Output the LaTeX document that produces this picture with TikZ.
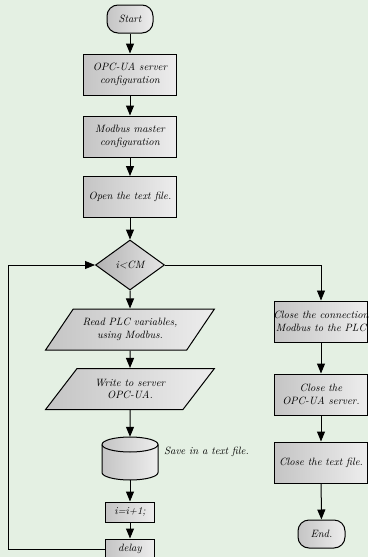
\documentclass[tikz,border=0pt]{standalone}
\usetikzlibrary{shapes.geometric,arrows.meta}
\definecolor{bgc}{RGB}{228,240,227}
\tikzset{
  base/.style={draw, line width=1pt, inner sep=0pt, align=center,
    font=\fontsize{10.6}{12.7}\selectfont\itshape,
    left color=black!23, right color=black!7},
  procbox/.style={base, rectangle, minimum width=93pt, minimum height=41pt},
  smallbox/.style={base, rectangle, minimum width=49pt, minimum height=20pt},
  termbox/.style={base, rectangle, rounded corners=11pt, minimum width=46pt, minimum height=28pt},
  decbox/.style={base, diamond, minimum width=69pt, minimum height=50pt, left color=black!30, right color=black!10},
  iobox/.style={base, trapezium, trapezium left angle=44, trapezium right angle=136,
    trapezium stretches=true, minimum width=169pt, minimum height=41pt},
  arr/.style={line width=1pt, -{Triangle[length=10pt,width=8pt]}},
  thinarr/.style={line width=0.8pt, -{Triangle[length=10pt,width=8pt]}},
  plain/.style={font=\fontsize{10.6}{12.7}\selectfont\itshape, inner sep=0pt}
}
\begin{document}
\begin{tikzpicture}[x=1pt,y=-1pt]
\useasboundingbox (0,0) rectangle (368,557);
\fill[bgc] (0,0) rectangle (368,557);
% left column
\node[termbox] (start) at (130,19) {Start};
\node[procbox] (opc) at (130,74.5) {OPC-UA server\\configuration};
\node[procbox] (modbus) at (130,136.5) {Modbus master\\configuration};
\node[procbox] (openf) at (130,197) {Open the text file.};
\node[decbox] (dec) at (130,265) {i<CM};
\node[iobox] (read) at (130,329.5) {Read PLC variables,\\using Modbus.};
\node[iobox] (write) at (130,389) {Write to server\\OPC-UA.};
\node[minimum width=56pt, minimum height=43pt, inner sep=0pt] (cyl) at (130,458.5) {};
\shade[left color=black!23, right color=black!7, draw, line width=1pt]
  (102,444.5) -- (102,472.5) arc[start angle=180, end angle=360, x radius=28pt, y radius=7.5pt]
  -- (158,444.5) arc[start angle=0, end angle=180, x radius=28pt, y radius=7.5pt] -- cycle;
\draw[line width=1pt] (102,444.5) arc[start angle=180, end angle=360, x radius=28pt, y radius=7.5pt];
\node[plain, anchor=west] (save) at (164,452) {Save in a text file.};
\node[smallbox] (inc) at (130,512) {i=i+1;};
\node[smallbox] (delay) at (130,549) {delay};
% right column
\node[procbox] (closeconn) at (321,321.5) {\makebox[80pt]{Close the connection}\\\makebox[80pt]{Modbus to the PLC}};
\node[procbox] (closeopc) at (321,394.5) {Close the\\OPC-UA server.};
\node[procbox] (closetxt) at (321,462.5) {Close the text file.};
\node[termbox, minimum width=47pt] (endn) at (321.5,534) {End.};
% connectors
\draw[arr] (start) -- (opc);
\draw[arr] (opc) -- (modbus);
\draw[arr] (modbus) -- (openf);
\draw[arr] (openf) -- (dec);
\draw[arr] (dec) -- (read);
\draw[arr] (read) -- (write);
\draw[arr] (write) -- (cyl);
\draw[arr] (cyl) -- (inc);
\draw[arr] (inc) -- (delay);
\draw[thinarr] (delay.west) -- (8,549) -- (8,265) -- (dec.west);
\draw[thinarr] (dec.east) -| (closeconn.north);
\draw[arr] (closeconn) -- (closeopc);
\draw[arr] (closeopc) -- (closetxt);
\draw[arr] (closetxt) -- (endn);
\end{tikzpicture}
\end{document}
